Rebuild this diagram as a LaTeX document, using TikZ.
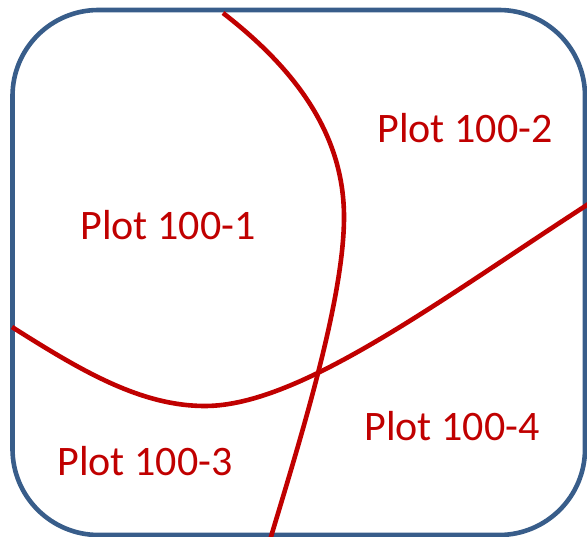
\documentclass[tikz,border=0pt]{standalone}
\usepackage{fontspec}
\setmainfont{Carlito}
\definecolor{frameblue}{HTML}{385D8A}
\definecolor{plotred}{HTML}{C00000}
\begin{document}
\begin{tikzpicture}[x=1pt,y=-1pt,
  frame/.style={draw=frameblue,line width=4.6pt,rounded corners=86pt},
  boundary/.style={draw=plotred,line width=4.6pt},
  plotlabel/.style={text=plotred,font=\fontsize{42}{50}\selectfont,anchor=base,inner sep=0pt}]
\useasboundingbox (0,0) rectangle (587,537);
\clip (0,0) rectangle (587,537);
\draw[frame] (12.5,10) rectangle (585,535);
\draw[boundary] (223,13) .. controls (290,65) and (344,130) .. (344,217)
  .. controls (344,300) and (300,440) .. (270,540);
\draw[boundary] (12,327) .. controls (80,370) and (140,406) .. (205,406)
  .. controls (300,406) and (440,300) .. (590,203);
\node[plotlabel] (p1) at (168,240) {Plot 100-1};
\node[plotlabel] (p2) at (465,143) {Plot 100-2};
\node[plotlabel] (p3) at (145,476) {Plot 100-3};
\node[plotlabel] (p4) at (452,441) {Plot 100-4};
\end{tikzpicture}
\end{document}
